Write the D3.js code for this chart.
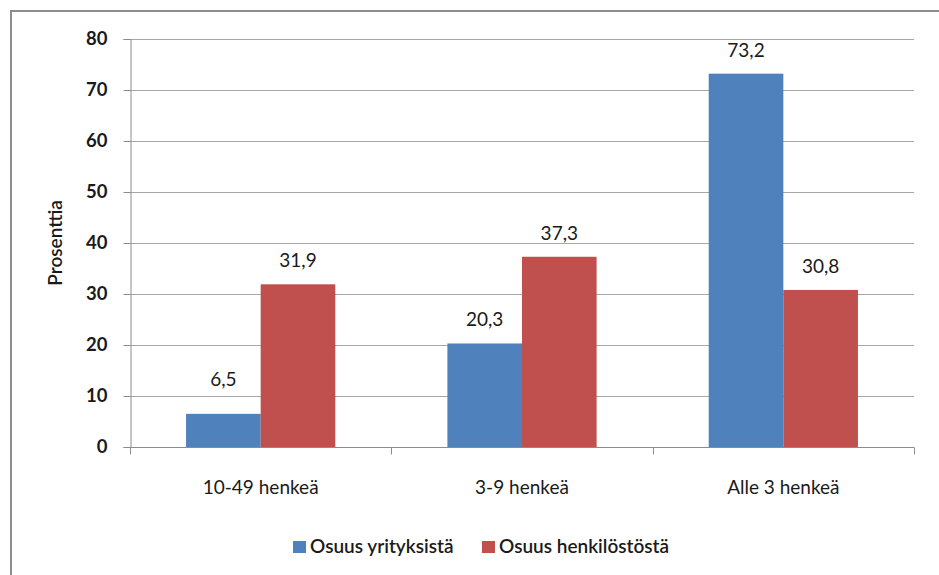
<!DOCTYPE html>
<html><head><meta charset="utf-8">
<script src="https://cdn.jsdelivr.net/npm/d3@7"></script>
<style>body{margin:0;background:#fff}svg{display:block}</style>
</head><body>
<script>
const categories = ["10-49 henkeä", "3-9 henkeä", "Alle 3 henkeä"];
const seriesNames = ["Osuus yrityksistä", "Osuus henkilöstöstä"];
const yritykset = [6.5, 20.3, 73.2];
const henkilosto = [31.9, 37.3, 30.8];
const yTicks = [0, 10, 20, 30, 40, 50, 60, 70, 80];
const colors = ["#4F81BD", "#C0504D"];
const fmt = v => String(v).replace(".", ",");

const W = 939, H = 575;
const svg = d3.select("body").append("svg").attr("width", W).attr("height", H);
const font = "Lato, 'Open Sans', sans-serif";

// outer frame
svg.append("rect").attr("x", 11).attr("y", 11).attr("width", W + 10).attr("height", H + 10)
  .attr("fill", "none").attr("stroke", "#8c8c8c").attr("stroke-width", 2);

const m = {l: 130, r: 914, t: 39, b: 447};
const x = d3.scaleBand().domain(categories).range([m.l, m.r]).paddingInner(0).paddingOuter(0);
const y = d3.scaleLinear().domain([0, 80]).range([m.b, m.t]);
const groupW = x.bandwidth() * 0.571;
const x1 = d3.scaleBand().domain([0, 1]).range([0, groupW]);

// gridlines
svg.append("g").selectAll("line").data(yTicks.filter(d => d > 0)).join("line")
  .attr("x1", m.l).attr("x2", m.r).attr("y1", d => Math.round(y(d)) + 0.5).attr("y2", d => Math.round(y(d)) + 0.5)
  .attr("stroke", "#a6a6a6").attr("stroke-width", 1);

// y axis
const ya = svg.append("g").attr("transform", `translate(${m.l + 0.5},0)`)
  .call(d3.axisLeft(y).tickValues(yTicks).tickSize(7).tickPadding(16));
ya.select(".domain").attr("stroke", "#8c8c8c");
ya.selectAll(".tick line").attr("stroke", "#8c8c8c");
ya.selectAll("text").attr("font-family", font).attr("font-size", 18.5).attr("font-weight", "bold").attr("fill", "#1a1a1a");

// bars
const data = categories.map((c, i) => ({c, vals: [yritykset[i], henkilosto[i]]}));
const g = svg.append("g").selectAll("g").data(data).join("g")
  .attr("transform", d => `translate(${x(d.c) + (x.bandwidth() - groupW) / 2},0)`);
g.selectAll("rect").data(d => d.vals.map((v, k) => ({v, k}))).join("rect")
  .attr("x", d => x1(d.k)).attr("width", x1.bandwidth())
  .attr("y", d => y(d.v)).attr("height", d => y(0) - y(d.v))
  .attr("fill", d => colors[d.k]);
g.selectAll("text").data(d => d.vals.map((v, k) => ({v, k}))).join("text")
  .attr("x", d => x1(d.k) + x1.bandwidth() / 2).attr("y", d => Math.min(y(d.v) - 17, y(0) - 61))
  .attr("text-anchor", "middle").attr("font-family", font).attr("font-size", 19)
  .attr("fill", "#1a1a1a").text(d => fmt(d.v));

// x axis
const xa = svg.append("g").attr("transform", `translate(0,${m.b + 0.5})`);
xa.append("line").attr("x1", m.l).attr("x2", m.r).attr("stroke", "#8c8c8c");
const bounds = [m.l, ...categories.map(c => x(c) + x.bandwidth())];
xa.selectAll("line.t").data(bounds).join("line").attr("class", "t")
  .attr("x1", d => Math.round(d) + 0.5).attr("x2", d => Math.round(d) + 0.5).attr("y1", 0).attr("y2", 7).attr("stroke", "#8c8c8c");
xa.selectAll("text").data(categories).join("text")
  .attr("x", d => x(d) + x.bandwidth() / 2).attr("y", 46)
  .attr("text-anchor", "middle").attr("font-family", font).attr("font-size", 19)
  .attr("fill", "#1a1a1a").text(d => d);

// y title
svg.append("text").attr("transform", "translate(62,243) rotate(-90)")
  .attr("text-anchor", "middle").attr("font-family", font).attr("font-size", 19).attr("font-weight", 600)
  .attr("fill", "#1a1a1a").text("Prosenttia");

// legend
const legX = [293, 482];
const lg = svg.append("g").selectAll("g").data(seriesNames).join("g")
  .attr("transform", (d, i) => `translate(${legX[i]},0)`);
lg.append("rect").attr("x", 0).attr("y", 541).attr("width", 13).attr("height", 12).attr("fill", (d, i) => colors[i]);
lg.append("text").attr("x", 17).attr("y", 553).attr("font-family", font).attr("font-size", 19)
  .attr("font-weight", 600).attr("fill", "#1a1a1a").text(d => d);
</script>
</body></html>
